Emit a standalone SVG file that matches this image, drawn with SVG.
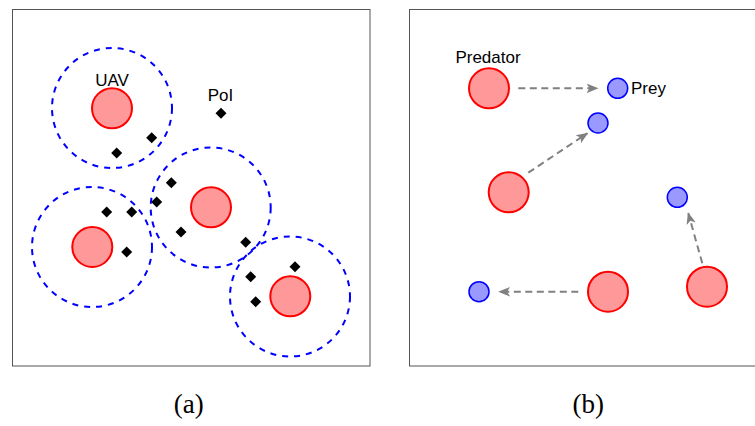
<svg xmlns="http://www.w3.org/2000/svg" width="755" height="426" viewBox="0 0 755 426">
<style>
.frame{fill:#fff;stroke:#555;stroke-width:1}
.uav{fill:#ff9999;stroke:#ff0000;stroke-width:2}
.prey{fill:#9999ff;stroke:#0000ff;stroke-width:1.5}
.range{fill:none;stroke:#0000ff;stroke-width:2;stroke-dasharray:6 6}
.poi{fill:#000}
.lbl{font-family:"Liberation Sans",Arial,sans-serif;font-size:17px;fill:#000}
.cap{font-family:"Liberation Serif","Times New Roman",serif;font-size:27px;fill:#000;text-anchor:middle}
.arr{fill:none;stroke:#808080;stroke-width:2;stroke-dasharray:7 4.5;marker-end:url(#ah)}
</style>
<defs>
<marker id="ah" markerUnits="userSpaceOnUse" markerWidth="12" markerHeight="12" viewBox="0 0 10 10" refX="9" refY="5" orient="auto">
<path d="M0,1 L10,5 L0,9 L2.5,5 z" fill="#808080"/>
</marker>
<polygon id="d" points="0,-5.5 5.5,0 0,5.5 -5.5,0"/>
</defs>
<rect width="755" height="426" fill="#fff"/>
<g id="panel-a">
<rect class="frame" x="12.5" y="9.5" width="357.5" height="356.5"/>
<g id="uav1"><circle class="range" cx="112" cy="108" r="60"/><circle class="uav" cx="112" cy="108.3" r="20"/><text class="lbl" x="112" y="86" text-anchor="middle">UAV</text></g>
<g id="uav2"><circle class="range" cx="92" cy="247" r="60"/><circle class="uav" cx="92.3" cy="247" r="20"/></g>
<g id="uav3"><circle class="range" cx="210.7" cy="207.5" r="60"/><circle class="uav" cx="211" cy="207.3" r="20"/></g>
<g id="uav4"><circle class="range" cx="290" cy="296.5" r="60"/><circle class="uav" cx="290.3" cy="296.3" r="20"/></g>
<g id="pois" class="poi">
<use href="#d" x="221" y="113.3"/>
<use href="#d" x="151.7" y="137.7"/>
<use href="#d" x="116.7" y="153"/>
<use href="#d" x="171.3" y="182.7"/>
<use href="#d" x="156.7" y="202"/>
<use href="#d" x="106.7" y="212"/>
<use href="#d" x="131.7" y="212"/>
<use href="#d" x="181" y="232"/>
<use href="#d" x="126.7" y="252"/>
<use href="#d" x="245.7" y="242.3"/>
<use href="#d" x="295" y="266.7"/>
<use href="#d" x="250.7" y="276.7"/>
<use href="#d" x="255.7" y="301.7"/>
</g>
<text class="lbl" x="220.5" y="101.3" text-anchor="middle">PoI</text>
<text class="cap" x="188.7" y="413">(a)</text>
</g>
<g id="panel-b">
<rect class="frame" x="409.5" y="9.5" width="360" height="356.5"/>
<g id="pred1"><circle class="uav" cx="489" cy="88.3" r="20"/><text class="lbl" x="488" y="62.7" text-anchor="middle">Predator</text></g>
<g id="pred2"><circle class="uav" cx="508.7" cy="192.3" r="20"/></g>
<g id="pred3"><circle class="uav" cx="707" cy="286.7" r="20"/></g>
<g id="pred4"><circle class="uav" cx="608" cy="291.7" r="20"/></g>
<g id="prey1"><circle class="prey" cx="617.7" cy="88.3" r="10"/><text class="lbl" x="631" y="93.8">Prey</text></g>
<g id="prey2"><circle class="prey" cx="598" cy="123" r="10"/></g>
<g id="prey3"><circle class="prey" cx="677.3" cy="197.3" r="10"/></g>
<g id="prey4"><circle class="prey" cx="479" cy="291.7" r="10"/></g>
<g id="connectors">
<line class="arr" x1="518.3" y1="88.3" x2="597.3" y2="88.3"/>
<line class="arr" x1="528.3" y1="172.7" x2="587.3" y2="133.3"/>
<line class="arr" x1="702.3" y1="263.3" x2="688.3" y2="213.3"/>
<line class="arr" x1="578.3" y1="291.7" x2="499.3" y2="291.7"/>
</g>
<text class="cap" x="588.3" y="413">(b)</text>
</g>
</svg>
